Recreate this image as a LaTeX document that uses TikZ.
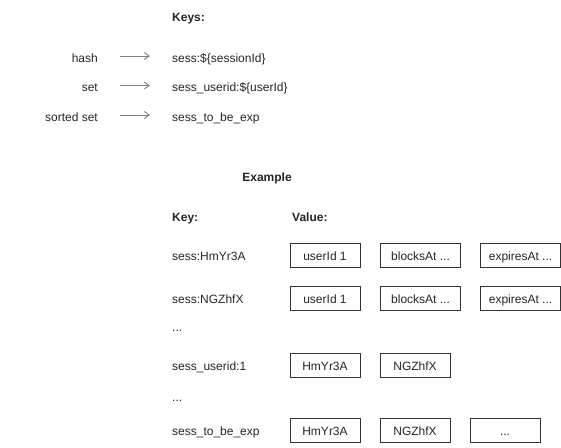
\documentclass[tikz,border=0pt]{standalone}
\usepackage{fontspec}
\setmainfont{Liberation Sans}
\usetikzlibrary{arrows.meta}
\begin{document}
\begin{tikzpicture}[x=1pt,y=-1pt,
  fnt/.style={font=\fontsize{12}{14}\selectfont,text height=8.6pt,text depth=2.4pt},
  txt/.style={fnt,inner sep=0pt,anchor=west,text=black!85},
  rtxt/.style={txt,anchor=east},
  hdr/.style={txt,font=\fontsize{12}{14}\selectfont\bfseries},
  arr/.style={draw=black!50,line width=0.9pt,-{Straight Barb[length=5pt,width=7pt]},shorten <=22pt,shorten >=22pt,transform canvas={yshift=3pt}},
  box/.style={font=\fontsize{12}{14}\selectfont,text height=10pt,text depth=0pt,draw=black!80,line width=0.9pt,minimum height=24pt,inner sep=0pt,text=black!85}]
\useasboundingbox (0,0) rectangle (561,447);
\fill[white] (0,0) rectangle (561,447);
\node[hdr] (keys) at (172,18) {Keys:};
\node[rtxt] (h1) at (98,59) {hash};
\node[rtxt] (h2) at (98,88.5) {set};
\node[rtxt] (h3) at (98,118) {sorted set};
\node[txt] (k1) at (172,59) {sess:\$\{sessionId\}};
\node[txt] (k2) at (172,88.5) {sess\_userid:\$\{userId\}};
\node[txt] (k3) at (172,118) {sess\_to\_be\_exp};
\draw[arr] (h1.east) -- (k1.west);
\draw[arr] (h2.east) -- (k2.west);
\draw[arr] (h3.east) -- (k3.west);
\node[hdr,anchor=center] (ex) at (267,178.5) {Example};
\node[hdr] (keyh) at (172,218.5) {Key:};
\node[hdr] (valh) at (292,218.5) {Value:};
\node[txt] (r1) at (172,257.4) {sess:HmYr3A};
\node[txt] (r2) at (172,299.9) {sess:NGZhfX};
\node[txt] (d1) at (172,328.5) {...};
\node[txt] (r3) at (172,367.4) {sess\_userid:1};
\node[txt] (d2) at (172,398.5) {...};
\node[txt] (r4) at (172,432.4) {sess\_to\_be\_exp};
\node[box,minimum width=70pt] (a1) at (325,255.5) {userId 1};
\node[box,minimum width=80pt] (b1) at (420.5,255.5) {blocksAt ...};
\node[box,minimum width=80pt] (c1) at (520.5,255.5) {expiresAt ...};
\node[box,minimum width=70pt] (a2) at (325,298) {userId 1};
\node[box,minimum width=80pt] (b2) at (420.5,298) {blocksAt ...};
\node[box,minimum width=80pt] (c2) at (520.5,298) {expiresAt ...};
\node[box,minimum width=70pt] (a3) at (325,365.5) {HmYr3A};
\node[box,minimum width=70pt] (b3) at (415,365.5) {NGZhfX};
\node[box,minimum width=70pt] (a4) at (325,430.5) {HmYr3A};
\node[box,minimum width=70pt] (b4) at (415,430.5) {NGZhfX};
\node[box,minimum width=70pt] (c4) at (505,430.5) {...};
\end{tikzpicture}
\end{document}
